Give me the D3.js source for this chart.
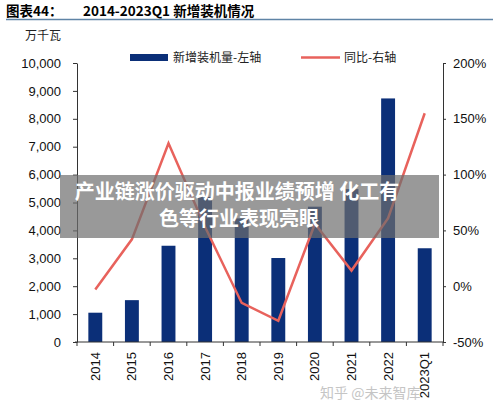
<!DOCTYPE html>
<html>
<head>
<meta charset="utf-8">
<script src="https://cdn.jsdelivr.net/npm/d3@7"></script>
<style>
  body { margin: 0; background: #fff; }
  svg { display: block; }
  .tick-label { font-family: 'Liberation Sans', Arial, sans-serif; font-size: 13px; fill: #111; }
  .cjk { font-family: 'Noto Sans CJK SC', sans-serif; }
</style>
</head>
<body>
<svg id="chart"></svg>
<script>
// data
const years = ['2014', '2015', '2016', '2017', '2018', '2019', '2020', '2021', '2022', '2023Q1']
const installed = [1050, 1500, 3450, 5200, 4430, 3010, 4850, 5480, 8730, 3360]   // 万千瓦
const yoy = [-3, 42, 128, 53, -15, -31, 56, 14, 61, 155]                       // %
const leftTicks = [0, 1000, 2000, 3000, 4000, 5000, 6000, 7000, 8000, 9000, 10000]
const rightTicks = [-50, 0, 50, 100, 150, 200]

class DualAxisChart {

    constructor(config) {
        this.config = {
            parentElement: config.parentElement,
            containerWidth: config.containerWidth || 500,
            containerHeight: config.containerHeight || 413,
            margin: config.margin || {top: 63, right: 57, bottom: 71, left: 77}
        }
        this.initVis()
    }

    initVis() {
        let vis = this

        vis.width = vis.config.containerWidth - vis.config.margin.left - vis.config.margin.right
        vis.height = vis.config.containerHeight - vis.config.margin.top - vis.config.margin.bottom

        vis.xScale = d3.scaleBand()
            .domain(years)
            .range([0, vis.width])
            .paddingInner(0.62)
            .paddingOuter(0.31)

        vis.yLeft = d3.scaleLinear()
            .domain([0, 10000])
            .range([vis.height, 0])

        vis.yRight = d3.scaleLinear()
            .domain([-50, 200])
            .range([vis.height, 0])

        vis.svg = d3.select(vis.config.parentElement)
            .attr('width', vis.config.containerWidth)
            .attr('height', vis.config.containerHeight)

        vis.chart = vis.svg.append('g')
            .attr('transform', `translate(${vis.config.margin.left},${vis.config.margin.top})`)

        // header (kept fully inside the frame)
        vis.svg.append('text')
            .attr('class', 'cjk')
            .attr('x', 6).attr('y', 16)
            .style('font-size', '13.5px').style('font-weight', 'bold')
            .text('图表44：')
        vis.svg.append('text')
            .attr('class', 'cjk')
            .attr('x', 83).attr('y', 16)
            .style('font-size', '13.5px').style('font-weight', 'bold')
            .text('2014-2023Q1 新增装机情况')
        vis.svg.append('line')
            .attr('x1', 6).attr('x2', 493)
            .attr('y1', 19.5).attr('y2', 19.5)
            .attr('stroke', '#5f84a6').attr('stroke-width', 1.5)

        vis.svg.append('text')
            .attr('class', 'cjk')
            .attr('x', 25).attr('y', 40)
            .style('font-size', '12px').style('fill', '#222')
            .text('万千瓦')

        // legend
        vis.svg.append('rect')
            .attr('x', 130).attr('y', 54).attr('width', 38).attr('height', 7)
            .attr('fill', '#0b2f78')
        vis.svg.append('text')
            .attr('class', 'cjk')
            .attr('x', 173).attr('y', 62)
            .style('font-size', '12px').style('fill', '#222')
            .text('新增装机量-左轴')
        vis.svg.append('line')
            .attr('x1', 301).attr('x2', 340).attr('y1', 57.5).attr('y2', 57.5)
            .attr('stroke', '#e8625c').attr('stroke-width', 2.5)
        vis.svg.append('text')
            .attr('class', 'cjk')
            .attr('x', 344).attr('y', 62)
            .style('font-size', '12px').style('fill', '#222')
            .text('同比-右轴')

        vis.renderVis()
    }

    renderVis() {
        let vis = this

        vis.chart.selectAll('.bar')
            .data(installed)
            .join('rect')
                .attr('class', 'bar')
                .attr('x', (d, i) => vis.xScale(years[i]))
                .attr('width', vis.xScale.bandwidth())
                .attr('y', d => vis.yLeft(d))
                .attr('height', d => vis.height - vis.yLeft(d))
                .attr('fill', '#0b2f78')

        const line = d3.line()
            .x((d, i) => vis.xScale(years[i]) + vis.xScale.bandwidth() / 2)
            .y(d => vis.yRight(d))

        vis.chart.append('path')
            .datum(yoy)
            .attr('d', line)
            .attr('fill', 'none')
            .attr('stroke', '#e8625c')
            .attr('stroke-width', 2.5)

        // left axis
        const leftAxis = d3.axisLeft(vis.yLeft)
            .tickValues(leftTicks)
            .tickFormat(d3.format(','))
            .tickSizeInner(4).tickSizeOuter(0).tickPadding(12)
        vis.chart.append('g')
            .call(leftAxis)
            .call(g => g.selectAll('text').attr('class', 'tick-label').attr('font-size', null).attr('font-family', null))
            .call(g => g.selectAll('line, path').attr('stroke', '#333'))

        // right axis
        const rightAxis = d3.axisRight(vis.yRight)
            .tickValues(rightTicks)
            .tickFormat(d => d + '%')
            .tickSizeInner(3).tickSizeOuter(0).tickPadding(7)
        vis.chart.append('g')
            .attr('transform', `translate(${vis.width},0)`)
            .call(rightAxis)
            .call(g => g.selectAll('text').attr('class', 'tick-label').attr('font-size', null).attr('font-family', null))
            .call(g => g.selectAll('line, path').attr('stroke', '#333'))

        // bottom axis: ticks at band boundaries, labels rotated
        const xG = vis.chart.append('g')
            .attr('transform', `translate(0,${vis.height})`)
        xG.append('line')
            .attr('x1', -2).attr('x2', vis.width)
            .attr('stroke', '#333')
        const step = vis.xScale.step()
        xG.selectAll('.xtick')
            .data(d3.range(years.length + 1))
            .join('line')
                .attr('class', 'xtick')
                .attr('x1', i => i * step)
                .attr('x2', i => i * step)
                .attr('y1', 0).attr('y2', 4)
                .attr('stroke', '#333')

        xG.selectAll('.xlabel')
            .data(years)
            .join('text')
                .attr('class', 'xlabel tick-label')
                .attr('text-anchor', 'end')
                .attr('transform', d => `translate(${vis.xScale(d) + vis.xScale.bandwidth() / 2 + 4.5},10) rotate(-90)`)
                .text(d => d)

        // watermark
        vis.svg.append('text')
            .attr('class', 'cjk')
            .attr('x', 320).attr('y', 398)
            .style('font-size', '14px').style('fill', '#bbb').style('opacity', 0.85)
            .text('知乎 @未来智库')

        // news caption overlay
        vis.svg.append('rect')
            .attr('x', 60).attr('y', 175).attr('width', 379).attr('height', 63)
            .attr('fill', 'rgba(110,110,110,0.7)')
        vis.svg.append('text')
            .attr('class', 'cjk')
            .attr('x', 237).attr('y', 199)
            .attr('text-anchor', 'middle')
            .style('font-size', '20px').style('font-weight', 'bold').style('fill', '#fff')
            .text('产业链涨价驱动中报业绩预增 化工有')
        vis.svg.append('text')
            .attr('class', 'cjk')
            .attr('x', 239).attr('y', 226)
            .attr('text-anchor', 'middle')
            .style('font-size', '20px').style('font-weight', 'bold').style('fill', '#fff')
            .text('色等行业表现亮眼')
    }
}

new DualAxisChart({parentElement: '#chart'})
</script>
</body>
</html>
